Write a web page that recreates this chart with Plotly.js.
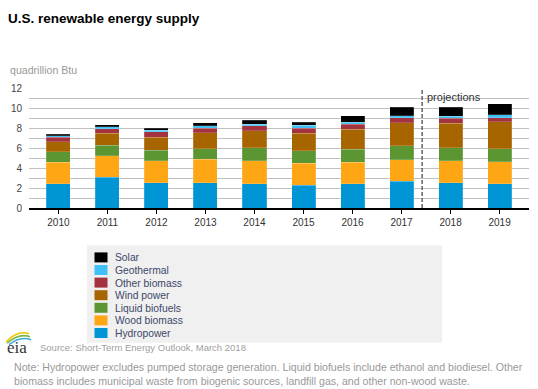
<!DOCTYPE html>
<html>
<head>
<meta charset="utf-8">
<script src="https://cdn.plot.ly/plotly-3.0.1.min.js"></script>
<style>html,body{margin:0;padding:0;background:#fff;}#chart{width:538px;height:389px;}</style>
</head>
<body>
<div id="chart"></div>
<script>
// ---- data (quadrillion Btu) ----
const years = ['2010','2011','2012','2013','2014','2015','2016','2017','2018','2019'];
const hydropower   = [2.43, 3.07, 2.53, 2.53, 2.43, 2.27, 2.43, 2.70, 2.53, 2.43];
const woodBiomass  = [2.17, 2.17, 2.20, 2.37, 2.33, 2.23, 2.17, 2.17, 2.20, 2.20];
const liquidBiofuels = [1.07, 1.07, 1.07, 1.07, 1.30, 1.27, 1.30, 1.37, 1.30, 1.33];
const windPower    = [1.00, 1.20, 1.30, 1.60, 1.70, 1.73, 2.00, 2.33, 2.47, 2.70];
const otherBiomass = [0.43, 0.47, 0.57, 0.43, 0.50, 0.50, 0.53, 0.50, 0.50, 0.40];
const geothermal   = [0.17, 0.17, 0.16, 0.27, 0.17, 0.30, 0.20, 0.20, 0.20, 0.30];
const solar        = [0.13, 0.20, 0.20, 0.27, 0.40, 0.33, 0.63, 0.83, 0.90, 1.10];

const seriesNames  = ['Hydropower','Wood biomass','Liquid biofuels','Wind power','Other biomass','Geothermal','Solar'];
const seriesValues = [hydropower, woodBiomass, liquidBiofuels, windPower, otherBiomass, geothermal, solar];
const seriesColors = ['#0096d6','#fea614','#5b9632','#a76500','#a5323f','#40c0f5','#000000'];

const projectionStart = 7.42; // position of the projections divider on the category axis
const yTickVals = [0,2,4,6,8,10,12];

// ---- layout helpers (pixel -> paper) ----
const L = 29, R = 529, T = 88.3, B = 208.3;
const px = x => (x - L) / (R - L);
const py = y => (B - y) / (B - T);

const FONT = '"Liberation Sans", Arial, sans-serif';

const traces = seriesNames.map((n, i) => ({
  type: 'bar', name: n, x: years, y: seriesValues[i],
  marker: {color: seriesColors[i], line: {width: 0.5, color: 'rgba(255,255,255,0.35)'}},
  width: 0.49, showlegend: false, hoverinfo: 'name+y'
}));

const shapes = [];
const annotations = [];

// projections divider
shapes.push({type:'line', xref:'x', yref:'y', x0:projectionStart, x1:projectionStart, y0:0, y1:12.1,
  line:{color:'#666666', width:1.5, dash:'4px,2px'}});
annotations.push({xref:'x', yref:'y', x:projectionStart, y:11.1, xanchor:'left', yanchor:'middle',
  xshift:3, text:'projections', showarrow:false, font:{family:FONT, size:11, color:'#333333'}});

// y axis unit label
annotations.push({xref:'paper', yref:'paper', x:px(8), y:py(70), xanchor:'left', yanchor:'middle',
  text:'quadrillion Btu', showarrow:false, font:{family:FONT, size:10.6, color:'#999999'}});

// custom legend box
shapes.push({type:'rect', xref:'paper', yref:'paper', x0:px(87), x1:px(442), y0:py(245.5), y1:py(343),
  fillcolor:'#f0f0f0', line:{width:0}, layer:'below'});
const legendOrder = seriesNames.map((_, i) => i).reverse();
legendOrder.forEach((idx, row) => {
  const cy = 257.7 + row * 12.6;
  shapes.push({type:'rect', xref:'paper', yref:'paper', x0:px(94.5), x1:px(107.5), y0:py(cy + 5), y1:py(cy - 5),
    fillcolor: seriesColors[idx], line:{width:0}});
  annotations.push({xref:'paper', yref:'paper', x:px(112.5), y:py(cy + 0.5), xanchor:'left', yanchor:'middle',
    text: seriesNames[idx], showarrow:false, font:{family:FONT, size:10.3, color:'#3b4868'}});
});

// source + note
annotations.push({xref:'paper', yref:'paper', x:px(38), y:py(348), xanchor:'left', yanchor:'middle',
  text:'Source: Short-Term Energy Outlook, March 2018', showarrow:false, font:{family:FONT, size:9.5, color:'#a0a0a0'}});
annotations.push({xref:'paper', yref:'paper', x:px(12), y:py(374.5), xanchor:'left', yanchor:'middle', align:'left',
  text:'Note: Hydropower excludes pumped storage generation. Liquid biofuels include ethanol and biodiesel. Other<br>biomass includes municipal waste from biogenic sources, landfill gas, and other non-wood waste.',
  showarrow:false, font:{family:FONT, size:10.6, color:'#999999'}});

// eia logo
annotations.push({xref:'paper', yref:'paper', x:px(17), y:py(348), xanchor:'center', yanchor:'middle',
  text:'eia', showarrow:false, font:{family:'"Liberation Serif", "DejaVu Serif", serif', size:17, color:'#333333'}});
const arcs = [['#f5c400', 6, 342, 18, 330, 29, 334], ['#7ab648', 7, 343.5, 19, 333, 30, 337], ['#3fa9dc', 9, 345, 20, 336, 31, 340]];
arcs.forEach(a => {
  shapes.push({type:'path', xref:'paper', yref:'paper',
    path:`M ${px(a[1])} ${py(a[2])} Q ${px(a[3])} ${py(a[4])} ${px(a[5])} ${py(a[6])}`,
    line:{color:a[0], width:1.6}});
});

const layout = {
  width: 538, height: 389,
  margin: {l: L, r: 538 - R, t: T, b: 389 - B, pad: 0},
  paper_bgcolor: '#ffffff', plot_bgcolor: '#ffffff',
  barmode: 'stack',
  title: {text: '<b>U.S. renewable energy supply</b>', x: 8/538, xref: 'container', xanchor: 'left',
    y: 1 - 18/389, yref: 'container', yanchor: 'middle', font: {family: FONT, size: 13.5, color: '#000000'}},
  font: {family: FONT},
  xaxis: {type: 'category', range: [-0.6, 9.6], showgrid: false, zeroline: false,
    showline: true, linecolor: '#000000', linewidth: 1.5,
    ticks: 'outside', ticklen: 4, tickcolor: '#000000', tickwidth: 1,
    tickfont: {family: FONT, size: 10, color: '#333333'}, fixedrange: true},
  yaxis: {range: [0, 12.05], tickvals: yTickVals, showline: false, zeroline: false,
    showgrid: true, gridcolor: '#c0c0c0', gridwidth: 1,
    minor: {dtick: 1, showgrid: true, gridcolor: '#c0c0c0', gridwidth: 1},
    ticks: '', ticklabelstandoff: 6,
    tickfont: {family: FONT, size: 10, color: '#444444'}, fixedrange: true},
  shapes: shapes,
  annotations: annotations,
  showlegend: false,
  bargap: 0.51
};

Plotly.newPlot('chart', traces, layout, {displayModeBar: false, staticPlot: true});
</script>
</body>
</html>
